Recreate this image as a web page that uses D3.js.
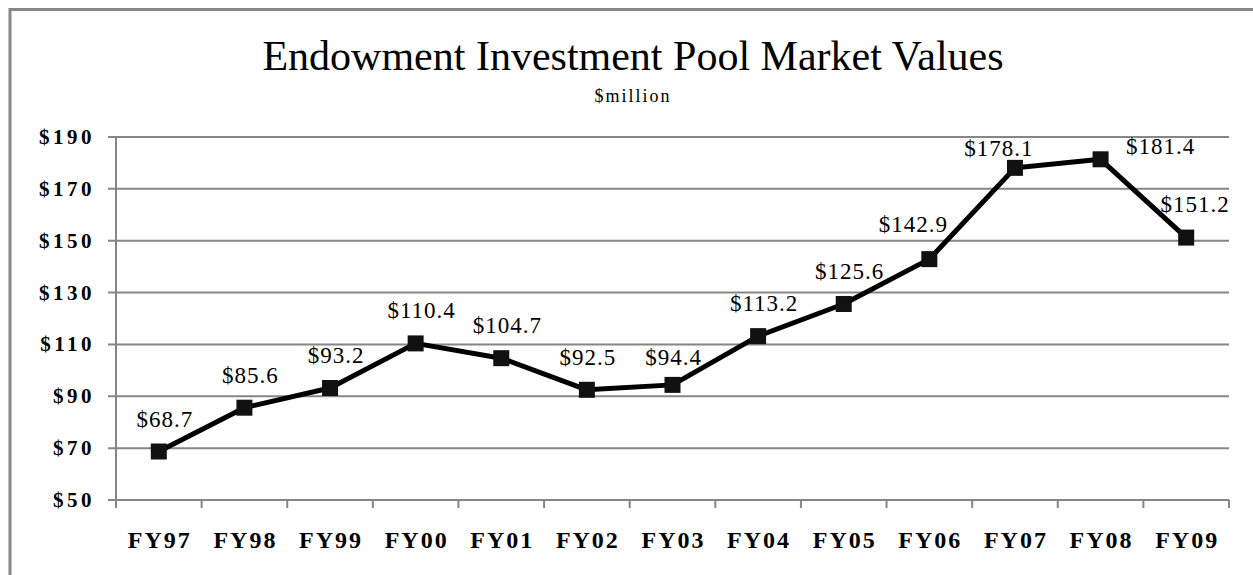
<!DOCTYPE html>
<html><head><meta charset="utf-8">
<script src="https://cdn.jsdelivr.net/npm/d3@7/dist/d3.min.js"></script>
<style>html,body{margin:0;padding:0;background:#fff;}</style>
</head><body>
<svg id="c" width="1253" height="575"></svg>
<script>
const categories = ["FY97","FY98","FY99","FY00","FY01","FY02","FY03","FY04","FY05","FY06","FY07","FY08","FY09"];
const values = [68.7,85.6,93.2,110.4,104.7,92.5,94.4,113.2,125.6,142.9,178.1,181.4,151.2];
const yTicks = [50,70,90,110,130,150,170,190];
const title = "Endowment Investment Pool Market Values";
const subtitle = "$million";

const svg = d3.select("#c");
const font = "'Liberation Serif','Times New Roman',serif";
const L = 116, R = 1229, T = 137, B = 500;

// manual label nudges (as placed in the original chart), by category
const labelNudge = {FY02:[1,-25], FY03:[1,-20], FY06:[-16,-27], FY07:[-16,-12], FY08:[60,-5], FY09:[9,-26]};
const defNudge = [6,-25];

svg.append("rect").attr("x",10).attr("y",9.5).attr("width",1260).attr("height",620)
  .attr("fill","#fff").attr("stroke","#868686").attr("stroke-width",3);

svg.append("text").attr("x",633).attr("y",70).attr("text-anchor","middle")
  .attr("font-family",font).attr("font-size",42).attr("fill","#000").text(title);
svg.append("text").attr("x",633).attr("y",102).attr("text-anchor","middle")
  .attr("font-family",font).attr("font-size",18).attr("letter-spacing",2).attr("fill","#000").text(subtitle);

const x = d3.scaleBand().domain(categories).range([L,R]);
const y = d3.scaleLinear().domain([50,190]).range([B,T]);

svg.append("g").selectAll("line").data(yTicks).join("line")
  .attr("x1",L-8).attr("x2",R).attr("y1",d=>y(d)).attr("y2",d=>y(d))
  .attr("stroke","#868686").attr("stroke-width",2);

svg.append("line").attr("x1",L).attr("x2",L).attr("y1",T).attr("y2",B+8)
  .attr("stroke","#868686").attr("stroke-width",2);

svg.append("g").selectAll("line").data(d3.range(categories.length+1)).join("line")
  .attr("x1",i=>L+x.step()*i).attr("x2",i=>L+x.step()*i)
  .attr("y1",B).attr("y2",B+8).attr("stroke","#868686").attr("stroke-width",2);

svg.append("g").selectAll("text").data(yTicks).join("text")
  .attr("x",95).attr("y",d=>y(d)+7).attr("text-anchor","end")
  .attr("font-family",font).attr("font-weight","bold").attr("font-size",21)
  .attr("letter-spacing",3.5)
  .text(d=>"$"+d);

svg.append("g").selectAll("text").data(categories).join("text")
  .attr("x",d=>x(d)+x.bandwidth()/2+1).attr("y",548).attr("text-anchor","middle")
  .attr("font-family",font).attr("font-weight","bold").attr("font-size",24)
  .attr("letter-spacing",2)
  .text(d=>d);

const pts = categories.map((c,i)=>({c,v:values[i]}));
const cx = d=>x(d.c)+x.bandwidth()/2;
const line = d3.line().x(cx).y(d=>y(d.v));
svg.append("path").datum(pts).attr("d",line).attr("fill","none")
  .attr("stroke","#000").attr("stroke-width",5).attr("stroke-linejoin","round");

svg.append("g").selectAll("rect").data(pts).join("rect")
  .attr("x",d=>cx(d)-8).attr("y",d=>y(d.v)-8)
  .attr("width",16).attr("height",16).attr("fill","#111");

svg.append("g").selectAll("text").data(pts).join("text")
  .attr("x",d=>cx(d)+(labelNudge[d.c]||defNudge)[0])
  .attr("y",d=>y(d.v)+(labelNudge[d.c]||defNudge)[1])
  .attr("text-anchor","middle").attr("font-family",font).attr("font-size",23)
  .attr("letter-spacing",1)
  .text(d=>"$"+d.v.toFixed(1));
</script>
</body></html>
